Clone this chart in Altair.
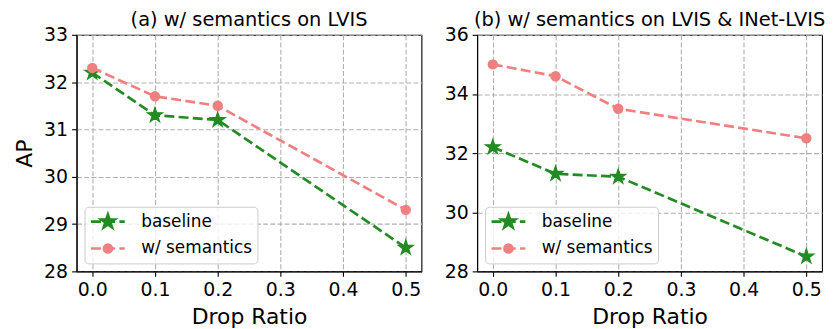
import math
import altair as alt
import pandas as pd

# ---------------- data ----------------
drop_ratio = [0.0, 0.1, 0.2, 0.5]
baseline_ap = [32.2, 31.3, 31.2, 28.5]
semantics_lvis_ap = [32.3, 31.7, 31.5, 29.3]
semantics_inet_ap = [35.0, 34.6, 33.5, 32.5]
series_names = ["baseline", "w/ semantics"]
series_colors = ["#228B22", "#F08080"]
x_ticks = [0.0, 0.1, 0.2, 0.3, 0.4, 0.5]
y_ticks_a = [28, 29, 30, 31, 32, 33]
y_ticks_b = [28, 30, 32, 34, 36]
panel_titles = ["(a) w/ semantics on LVIS", "(b) w/ semantics on LVIS & INet-LVIS"]
x_title = "Drop Ratio"
y_title = "AP"

FONT = "DejaVu Sans"
GREEN, PINK = series_colors


def star_path(r, cx=0.0, inner=0.381966):
    pts = []
    for k in range(10):
        ang = math.radians(36 * k)
        rad = r if k % 2 == 0 else r * inner
        pts.append((cx + rad * math.sin(ang), -rad * math.cos(ang)))
    return "M" + " L".join(f"{px:.4f},{py:.4f}" for px, py in pts) + " Z"


def circle_path(r, cx=0.0):
    return (f"M{cx + r:.4f},0 A{r:.4f},{r:.4f} 0 1,1 {cx - r:.4f},0 "
            f"A{r:.4f},{r:.4f} 0 1,1 {cx + r:.4f},0 Z")


# legend glyph: dashed line (unit = 8.5 px) starting at the symbol's left edge,
# with the marker centred 17 px from the start
dash_line = "M-1,0 L0.176,0 M0.682,0 L1.859,0 M2.365,0 L3,0"
legend_shapes = [dash_line + " " + star_path(0.82, cx=1.0),
                 dash_line + " " + circle_path(0.47, cx=1.0)]


def panel(sem_values, y_ticks, title, ytitle):
    n = len(drop_ratio)
    df = pd.DataFrame({
        "drop": drop_ratio * 2,
        "ap": baseline_ap + sem_values,
        "series": [series_names[0]] * n + [series_names[1]] * n,
    })
    x = alt.X("drop:Q",
              scale=alt.Scale(domain=[-0.025, 0.525], nice=False, zero=False),
              axis=alt.Axis(values=x_ticks, format=".1f", title=x_title))
    if ytitle:
        yaxis = alt.Axis(values=y_ticks, format="d", title=ytitle)
    else:
        yaxis = alt.Axis(values=y_ticks, format="d", title=None)
    y = alt.Y("ap:Q",
              scale=alt.Scale(domain=[y_ticks[0], y_ticks[-1]], nice=False, zero=False),
              axis=yaxis)
    base = alt.Chart(df).encode(x=x, y=y)
    is_b = alt.datum.series == series_names[0]
    is_s = alt.datum.series == series_names[1]
    line_b = base.transform_filter(is_b).mark_line(
        color=GREEN, strokeWidth=2.7, strokeDash=[10, 4.3])
    pts_b = base.transform_filter(is_b).mark_point(
        shape=star_path(1), filled=True, size=250, fill=GREEN, stroke=GREEN,
        strokeWidth=1.2, opacity=1)
    line_s = base.transform_filter(is_s).mark_line(
        color=PINK, strokeWidth=2.7, strokeDash=[10, 4.3])
    pts_s = base.transform_filter(is_s).mark_circle(
        size=110, color=PINK, opacity=1)

    leg = alt.Legend(title=None, orient="bottom-left", offset=8, padding=5,
                     fillColor="rgba(255,255,255,0.8)", strokeColor="#cccccc",
                     cornerRadius=4, symbolSize=289, symbolStrokeWidth=2.7,
                     symbolOpacity=1, labelFontSize=17, labelFont=FONT,
                     labelColor="black", labelOffset=32, rowPadding=5)
    legend_layer = base.transform_filter("false").mark_point(
        filled=True, opacity=1, size=289, strokeWidth=2.7).encode(
        shape=alt.Shape("series:N", scale=alt.Scale(domain=series_names, range=legend_shapes), legend=leg),
        fill=alt.Fill("series:N", scale=alt.Scale(domain=series_names, range=series_colors), legend=leg),
        stroke=alt.Stroke("series:N", scale=alt.Scale(domain=series_names, range=series_colors), legend=leg),
    )
    return alt.layer(line_b, pts_b, line_s, pts_s, legend_layer).properties(
        width=347, height=238,
        title=alt.TitleParams(title, fontSize=19.5, font=FONT, fontWeight="normal",
                              color="black", frame="group", anchor="middle", offset=-5),
    )


left = panel(semantics_lvis_ap, y_ticks_a, panel_titles[0], y_title)
right = panel(semantics_inet_ap, y_ticks_b, panel_titles[1], None)

chart = alt.hconcat(left, right, spacing=21).resolve_scale(
    y="independent", shape="independent", fill="independent", stroke="independent"
).resolve_legend(
    shape="independent", fill="independent", stroke="independent"
).configure(
    font=FONT, padding={"left": 5, "top": 0, "right": 0, "bottom": 0}
).configure_view(
    stroke="black", strokeWidth=1.1
).configure_axis(
    domainColor="black", domainWidth=1.1, tickColor="black", tickSize=5, tickWidth=1.1,
    labelFontSize=19, labelFont=FONT, labelColor="black", labelPadding=4,
    labelFlush=False, titleFontSize=22, titleFont=FONT, titleFontWeight="normal",
    titleColor="black", titlePadding=7, gridColor="#b0b0b0", gridDash=[5, 2.2],
    gridWidth=1.1,
)

chart.save("out.html", embed_options={"renderer": "svg", "actions": False})
